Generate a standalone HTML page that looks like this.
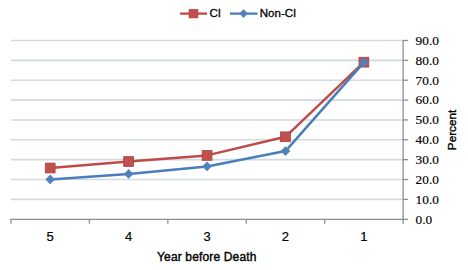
<!DOCTYPE html>
<html><head><meta charset="utf-8">
<style>
html,body{margin:0;padding:0;background:#fff;}
body{width:468px;height:270px;overflow:hidden;position:relative;}
svg{position:absolute;left:0;top:0;}
.s{font-family:"Liberation Sans",sans-serif;}
.r{font-family:"Liberation Serif",serif;}
</style></head><body>
<svg width="468" height="270" viewBox="0 0 468 270">
<g stroke="#d3d9e0" stroke-width="1.6">
<line x1="11.0" y1="40.50" x2="403.1" y2="40.50"/>
<line x1="11.0" y1="60.36" x2="403.1" y2="60.36"/>
<line x1="11.0" y1="80.22" x2="403.1" y2="80.22"/>
<line x1="11.0" y1="100.08" x2="403.1" y2="100.08"/>
<line x1="11.0" y1="119.94" x2="403.1" y2="119.94"/>
<line x1="11.0" y1="139.80" x2="403.1" y2="139.80"/>
<line x1="11.0" y1="159.66" x2="403.1" y2="159.66"/>
<line x1="11.0" y1="179.52" x2="403.1" y2="179.52"/>
<line x1="11.0" y1="199.38" x2="403.1" y2="199.38"/>
</g>
<g stroke="#8e8e8e" stroke-width="1.3">
<line x1="10.4" y1="219.34" x2="408.1" y2="219.34"/>
<line x1="403.1" y1="39.90" x2="403.1" y2="223.94"/>
<line x1="11.00" y1="219.34" x2="11.00" y2="223.74"/>
<line x1="89.42" y1="219.34" x2="89.42" y2="223.74"/>
<line x1="167.84" y1="219.34" x2="167.84" y2="223.74"/>
<line x1="246.26" y1="219.34" x2="246.26" y2="223.74"/>
<line x1="324.68" y1="219.34" x2="324.68" y2="223.74"/>
<line x1="403.1" y1="40.50" x2="408.1" y2="40.50"/>
<line x1="403.1" y1="60.36" x2="408.1" y2="60.36"/>
<line x1="403.1" y1="80.22" x2="408.1" y2="80.22"/>
<line x1="403.1" y1="100.08" x2="408.1" y2="100.08"/>
<line x1="403.1" y1="119.94" x2="408.1" y2="119.94"/>
<line x1="403.1" y1="139.80" x2="408.1" y2="139.80"/>
<line x1="403.1" y1="159.66" x2="408.1" y2="159.66"/>
<line x1="403.1" y1="179.52" x2="408.1" y2="179.52"/>
<line x1="403.1" y1="199.38" x2="408.1" y2="199.38"/>
</g>
<g class="r" font-size="13.3" fill="#000" stroke="#000" stroke-width="0.18">
<text x="415.6" y="44.80" letter-spacing="0">90.0</text>
<text x="415.6" y="64.66" letter-spacing="0">80.0</text>
<text x="415.6" y="84.52" letter-spacing="0">70.0</text>
<text x="415.6" y="104.38" letter-spacing="0">60.0</text>
<text x="415.6" y="124.24" letter-spacing="0">50.0</text>
<text x="415.6" y="144.10" letter-spacing="0">40.0</text>
<text x="415.6" y="163.96" letter-spacing="0">30.0</text>
<text x="415.6" y="183.82" letter-spacing="0">20.0</text>
<text x="415.6" y="203.68" letter-spacing="0">10.0</text>
<text x="415.6" y="223.54" letter-spacing="0">0.0</text>
</g>
<text class="s" font-size="11.7" transform="translate(456.3,130) rotate(-90)" text-anchor="middle" stroke="#000" stroke-width="0.35">Percent</text>
<g class="s" font-size="13" text-anchor="middle" fill="#000" stroke="#000" stroke-width="0.2">
<text x="50.21" y="241.3">5</text>
<text x="128.63" y="241.3">4</text>
<text x="207.05" y="241.3">3</text>
<text x="285.47" y="241.3">2</text>
<text x="363.89" y="241.3">1</text>
</g>
<text class="s" font-size="12" x="206.8" y="261" text-anchor="middle" letter-spacing="0.15" stroke="#000" stroke-width="0.38">Year before Death</text>
<polyline fill="none" stroke="#be4b48" stroke-width="2.5" stroke-linejoin="round" points="50.21,168.0 128.63,161.5 207.05,155.4 285.47,136.8 363.89,62.2"/>
<g fill="#c0504d" stroke="#a9423f" stroke-width="0.8">
<rect x="45.31" y="163.10" width="9.8" height="9.8"/>
<rect x="123.73" y="156.60" width="9.8" height="9.8"/>
<rect x="202.15" y="150.50" width="9.8" height="9.8"/>
<rect x="280.57" y="131.90" width="9.8" height="9.8"/>
<rect x="358.99" y="57.30" width="9.8" height="9.8"/>
</g>
<polyline fill="none" stroke="#4a7ebb" stroke-width="2.5" stroke-linejoin="round" points="50.21,179.4 128.63,173.9 207.05,166.4 285.47,151.1 363.89,62.4"/>
<g fill="#4f81bd">
<path d="M50.21,174.60 L55.01,179.40 L50.21,184.20 L45.41,179.40Z"/>
<path d="M128.63,169.10 L133.43,173.90 L128.63,178.70 L123.83,173.90Z"/>
<path d="M207.05,161.60 L211.85,166.40 L207.05,171.20 L202.25,166.40Z"/>
<path d="M285.47,146.30 L290.27,151.10 L285.47,155.90 L280.67,151.10Z"/>
<path d="M363.89,57.60 L368.69,62.40 L363.89,67.20 L359.09,62.40Z"/>
</g>
<g>
    <line x1="180" y1="13.6" x2="207" y2="13.6" stroke="#be4b48" stroke-width="2.3"/>
    <rect x="189" y="9.2" width="9" height="8.8" fill="#c0504d" stroke="#b8474a" stroke-width="0.5"/>
    <text class="s" font-size="11.5" x="209.5" y="17.3" stroke="#000" stroke-width="0.3">CI</text>
    <line x1="230" y1="13.6" x2="257.5" y2="13.6" stroke="#4a7ebb" stroke-width="2.3"/>
    <path d="M243.6,9.3 L247.8,13.6 L243.6,17.9 L239.4,13.6Z" fill="#4f81bd"/>
    <text class="s" font-size="11.5" x="259.8" y="17.3" stroke="#000" stroke-width="0.3">Non-CI</text>
  </g>
</svg>
</body></html>
